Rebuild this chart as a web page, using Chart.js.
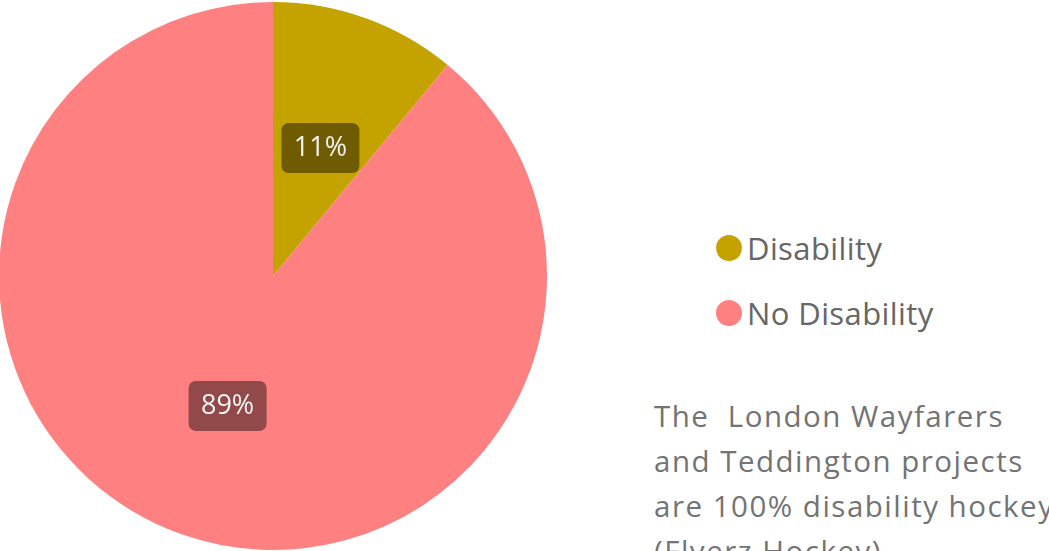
<!DOCTYPE html>
<html>
<head>
<meta charset="utf-8">
<script src="https://cdn.jsdelivr.net/npm/chart.js@4.4.0/dist/chart.umd.min.js"></script>
<style>
  html, body { margin: 0; padding: 0; background: #fff; overflow: hidden; }
  body { width: 1049px; height: 551px; position: relative; font-family: "Open Sans", sans-serif; }
  #pieBox { position: absolute; left: -1px; top: 2px; width: 548px; height: 548px; }
  #legend { position: absolute; left: 716px; top: 215px; }
  .item { display: flex; align-items: center; height: 65px; font-size: 31px; letter-spacing: 0.4px; color: #666; }
  .dot { width: 26px; height: 26px; border-radius: 50%; margin-right: 5px; }
  #note { position: absolute; left: 654px; top: 393px; font-size: 29.5px; letter-spacing: 1.5px; line-height: 45px; color: #737373; white-space: pre; }
</style>
</head>
<body>
<div id="pieBox"><canvas id="pieChart"></canvas></div>
<div id="legend"></div>
<div id="note"></div>
<script>
// data
const categories = ['Disability', 'No Disability'];
const shares = [11, 89];
const sliceColors = ['#C4A300', '#FF8080'];
const noteLines = ['The  London Wayfarers', 'and Teddington projects', 'are 100% disability hockey', '(Flyerz Hockey)'];

// dark rounded boxes with the percentage in each slice
const sliceLabels = {
  id: 'sliceLabels',
  afterDatasetsDraw(chart) {
    const ctx = chart.ctx;
    const meta = chart.getDatasetMeta(0);
    ctx.save();
    ctx.font = '500 27px "Open Sans", sans-serif';
    ctx.textAlign = 'center';
    ctx.textBaseline = 'middle';
    meta.data.forEach((arc, i) => {
      const p = arc.getCenterPoint();
      const txt = shares[i] + '%';
      const w = 78, h = 50;
      ctx.fillStyle = 'rgba(0,0,0,0.43)';
      ctx.beginPath();
      ctx.roundRect(p.x - w / 2 + 1, p.y - h / 2 + 1, w, h, 7);
      ctx.fill();
      ctx.fillStyle = '#f2f2f2';
      ctx.fillText(txt, p.x + 1, p.y + 1);
    });
    ctx.restore();
  }
};

const pieChart = new Chart(document.getElementById('pieChart').getContext('2d'), {
  type: 'pie',
  data: {
    labels: categories,
    datasets: [{
      data: shares,
      backgroundColor: sliceColors,
      borderWidth: 0
    }]
  },
  options: {
    responsive: true,
    maintainAspectRatio: false,
    animation: false,
    layout: { padding: 0 },
    plugins: {
      legend: { display: false },
      tooltip: { enabled: false }
    }
  },
  plugins: [sliceLabels]
});

// html legend built from the chart's own labels
const legendBox = document.getElementById('legend');
pieChart.options.plugins.legend.labels.generateLabels(pieChart).forEach(l => {
  const row = document.createElement('div');
  row.className = 'item';
  row.innerHTML = `<span class="dot" style="background:${l.fillStyle}"></span><span>${l.text}</span>`;
  legendBox.appendChild(row);
});

document.getElementById('note').textContent = noteLines.join('\n');
</script>
</body>
</html>
